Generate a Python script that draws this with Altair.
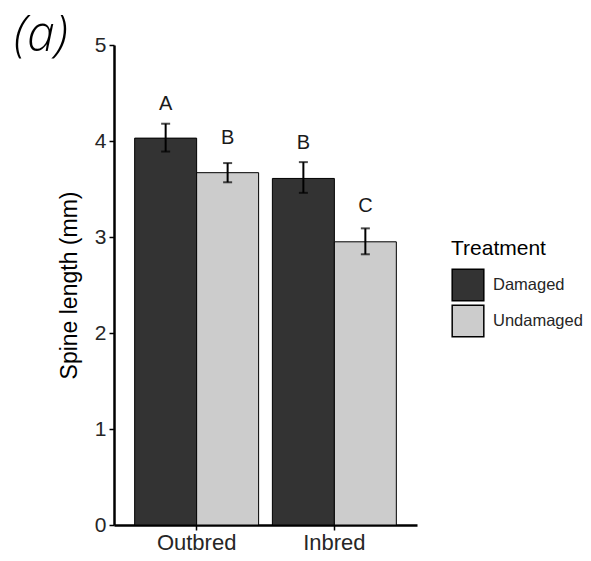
import altair as alt
import pandas as pd

lines = ["Outbred", "Outbred", "Inbred", "Inbred"]
treatments = ["Damaged", "Undamaged", "Damaged", "Undamaged"]
means = [4.03, 3.67, 3.61, 2.95]
lowers = [3.89, 3.57, 3.46, 2.82]
uppers = [4.18, 3.77, 3.78, 3.09]
letters = ["A", "B", "B", "C"]
letter_y = [4.39, 4.03, 3.98, 3.32]

line_order = ["Outbred", "Inbred"]
treat_order = ["Damaged", "Undamaged"]
treat_colors = ["#333333", "#cccccc"]
y_ticks = [0, 1, 2, 3, 4, 5]

df = pd.DataFrame({
    "Line": lines, "Treatment": treatments, "mean": means,
    "lower": lowers, "upper": uppers, "letter": letters, "ly": letter_y,
})

FONT = "Liberation Sans"

x_enc = alt.X("Line:N", sort=line_order,
              scale=alt.Scale(paddingInner=0.1, paddingOuter=0.15),
              axis=alt.Axis(title=None, labelAngle=0, labelFontSize=22, labelColor="#262626",
                            labelFont=FONT, domainColor="black", domainWidth=2.5,
                            tickColor="black", tickWidth=1.5, tickSize=5, labelPadding=2))
xo = alt.XOffset("Treatment:N", sort=treat_order, scale=alt.Scale(paddingInner=0, paddingOuter=0))
y_scale = alt.Scale(domain=[0, 5], nice=False, zero=True)

bars = alt.Chart(df).mark_bar(stroke="black", strokeWidth=1).encode(
    x=x_enc,
    xOffset=xo,
    y=alt.Y("mean:Q", scale=y_scale,
            axis=alt.Axis(title="Spine length (mm)", values=y_ticks, format="d", grid=False,
                          titleFontSize=23, titleFont=FONT, titleFontWeight="normal",
                          titleColor="black", titlePadding=13,
                          labelFontSize=21, labelColor="#262626", labelFont=FONT,
                          domainColor="black", domainWidth=2.5,
                          tickColor="black", tickWidth=1.5, tickSize=5, labelPadding=3)),
    fill=alt.Fill("Treatment:N", sort=treat_order,
                  scale=alt.Scale(domain=treat_order, range=treat_colors),
                  legend=alt.Legend(title="Treatment", orient="none", legendX=337, legendY=193,
                                    titleFontSize=21, titleFont=FONT, titleFontWeight="normal",
                                    titleColor="black", titlePadding=9,
                                    labelFontSize=16.5, labelFont=FONT, labelColor="#262626",
                                    labelOffset=8,
                                    symbolType="square", symbolSize=1000,
                                    symbolStrokeColor="black", symbolStrokeWidth=1.5,
                                    symbolOpacity=1, rowPadding=-8)),
)

rules = alt.Chart(df).mark_rule(color="black", strokeWidth=2).encode(
    x=alt.X("Line:N", sort=line_order), xOffset=xo,
    y=alt.Y("lower:Q", scale=y_scale), y2="upper:Q",
)
caps_top = alt.Chart(df).mark_tick(color="black", size=9, thickness=2, orient="horizontal").encode(
    x=alt.X("Line:N", sort=line_order), xOffset=xo,
    y=alt.Y("upper:Q", scale=y_scale),
)
caps_bot = alt.Chart(df).mark_tick(color="black", size=9, thickness=2, orient="horizontal").encode(
    x=alt.X("Line:N", sort=line_order), xOffset=xo,
    y=alt.Y("lower:Q", scale=y_scale),
)
texts = alt.Chart(df).mark_text(fontSize=20, font=FONT, color="#1a1a1a", baseline="middle").encode(
    x=alt.X("Line:N", sort=line_order), xOffset=xo,
    y=alt.Y("ly:Q", scale=y_scale),
    text="letter:N",
)

chart = alt.layer(bars, rules, caps_top, caps_bot, texts).properties(
    width=303, height=480,
    title=alt.TitleParams("(a)", anchor="start", frame="group", dx=-100, dy=27,
                          fontSize=50, font="Open Sans", fontWeight=300, fontStyle="italic",
                          color="black", offset=0),
    autosize=alt.AutoSizeParams(type="none"),
    padding={"left": 106, "top": 37, "right": 166, "bottom": 28},
    background="white",
).configure_view(strokeWidth=0).configure_legend(rowPadding=-8)

chart.save("out.html", embed_options={"renderer": "svg", "actions": False})
